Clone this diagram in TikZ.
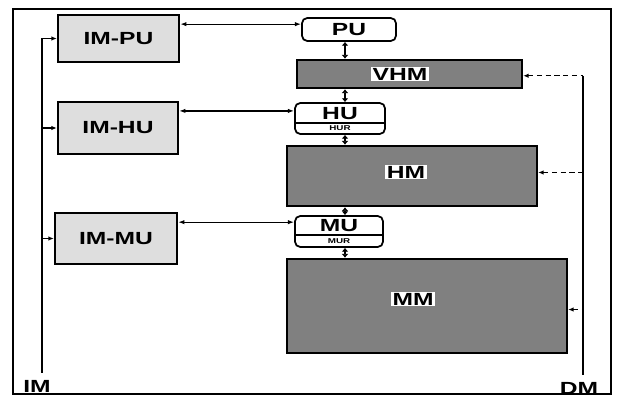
\documentclass[tikz,border=0pt]{standalone}
\usepackage{fontspec}
\newfontfamily\boxfont[FakeStretch=1.4]{Liberation Sans Bold}
\usetikzlibrary{arrows.meta}

\begin{document}
\begin{tikzpicture}[x=0.2mm,y=-0.2mm,
  lbl/.style={font=\boxfont\fontsize{10}{12}\selectfont,inner sep=1pt},
  sublbl/.style={font=\boxfont\fontsize{4}{5}\selectfont,inner sep=0pt},
  imbox/.style={draw,line width=1.4pt,fill=black!13,lbl},
  membox/.style={draw,line width=1.4pt,fill=black!50},
  memlbl/.style={lbl,fill=white,inner sep=0.8pt},
  unit/.style={draw,line width=1pt,rounded corners=3pt,fill=white},
  conn/.style={line width=0.7pt},
  dbl/.style={conn,{Latex[length=3.5pt,width=2.5pt]}-{Latex[length=3.5pt,width=2.5pt]}},
  bus/.style={line width=1.6pt,{Latex[length=2.2pt,width=4pt]}-{Latex[length=2.2pt,width=4pt]}},
  dline/.style={line width=0.6pt,densely dashed,{Latex[length=3pt,width=2.5pt]}-}]
\useasboundingbox (0,0) rectangle (619,408);
\draw[line width=0.9pt] (13,9) rectangle (611,394);

% instruction memories
\node[imbox,minimum width=24.2mm,minimum height=9.4mm] (IMPU) at (118.5,38.5) {IM-PU};
\node[imbox,minimum width=24mm,minimum height=10.4mm] (IMHU) at (118,128) {IM-HU};
\node[imbox,minimum width=24.4mm,minimum height=10.2mm] (IMMU) at (116,238.5) {IM-MU};

% units
\node[unit,lbl,minimum width=18.8mm,minimum height=4.6mm] (PU) at (349,29.5) {PU};
\node[unit,minimum width=18mm,minimum height=6.2mm] (HU) at (340,118.5) {};
\draw[line width=0.8pt] (HU.west |- 0,123) -- (HU.east |- 0,123);
\node[lbl] (HUtxt) at (340,114) {HU};
\node[sublbl] (HUR) at (340,128.5) {HUR};
\node[unit,minimum width=17.6mm,minimum height=6.2mm] (MU) at (339,231.5) {};
\draw[line width=0.8pt] (MU.west |- 0,235) -- (MU.east |- 0,235);
\node[lbl] (MUtxt) at (339,225.5) {MU};
\node[sublbl] (MUR) at (339,241) {MUR};

% memories
\node[membox,minimum width=45mm,minimum height=5.6mm] (VHM) at (409.5,74) {};
\node[memlbl] (VHMtxt) at (400,74) {VHM};
\node[membox,minimum width=50mm,minimum height=12mm] (HM) at (412,176) {};
\node[memlbl] (HMtxt) at (406,172) {HM};
\node[membox,minimum width=56mm,minimum height=18.8mm] (MM) at (427,306) {};
\node[memlbl] (MMtxt) at (413,299) {MM};

\node[lbl] (IM) at (37,386) {IM};
\node[lbl] (DM) at (579,388) {DM};
\coordinate (axis) at (345,0);
\coordinate (imx) at (42,0);
\coordinate (dmx) at (583,0);
\coordinate (PUin) at ([yshift=-4pt]PU.north west);
\coordinate (HUin) at ([yshift=-5pt]HU.north west);
\coordinate (MUin) at ([yshift=-4pt]MU.north west);

\draw[bus] (PU.south -| axis) -- (VHM.north -| axis);
\draw[bus] (VHM.south -| axis) -- (HU.north -| axis);
\draw[bus] (HU.south -| axis) -- (HM.north -| axis);
\draw[bus] (HM.south -| axis) -- (MU.north -| axis);
\draw[bus] (MU.south -| axis) -- (MM.north -| axis);

\draw[dbl] (IMPU.east |- PUin) -- (PUin);
\draw[dbl] (IMHU.east |- HUin) -- (HUin);
\draw[dbl] (IMMU.east |- MUin) -- (MUin);

\draw[conn,{Latex[length=3pt,width=2.5pt]}-,shorten >=3pt] (IMPU.west) -- (IMPU.west -| imx) -- (imx |- IM.north);
\draw[conn,-{Latex[length=3pt,width=2.5pt]}] (IMHU.west -| imx) -- (IMHU.west);
\draw[conn,-{Latex[length=3pt,width=2.5pt]}] (IMMU.west -| imx) -- (IMMU.west);

\coordinate (VHMout) at ([yshift=-1pt]VHM.east);
\coordinate (HMout) at ([yshift=2pt]HM.east);
\coordinate (MMout) at ([yshift=-2pt]MM.east);
\draw[conn,shorten >=3pt] (VHMout -| dmx) -- (dmx |- DM.north);
\draw[dline] (VHMout) -- (VHMout -| dmx);
\draw[dline] (HMout) -- (HMout -| dmx);
\draw[dline] (MMout) -- (MMout -| dmx);
\end{tikzpicture}
\end{document}
